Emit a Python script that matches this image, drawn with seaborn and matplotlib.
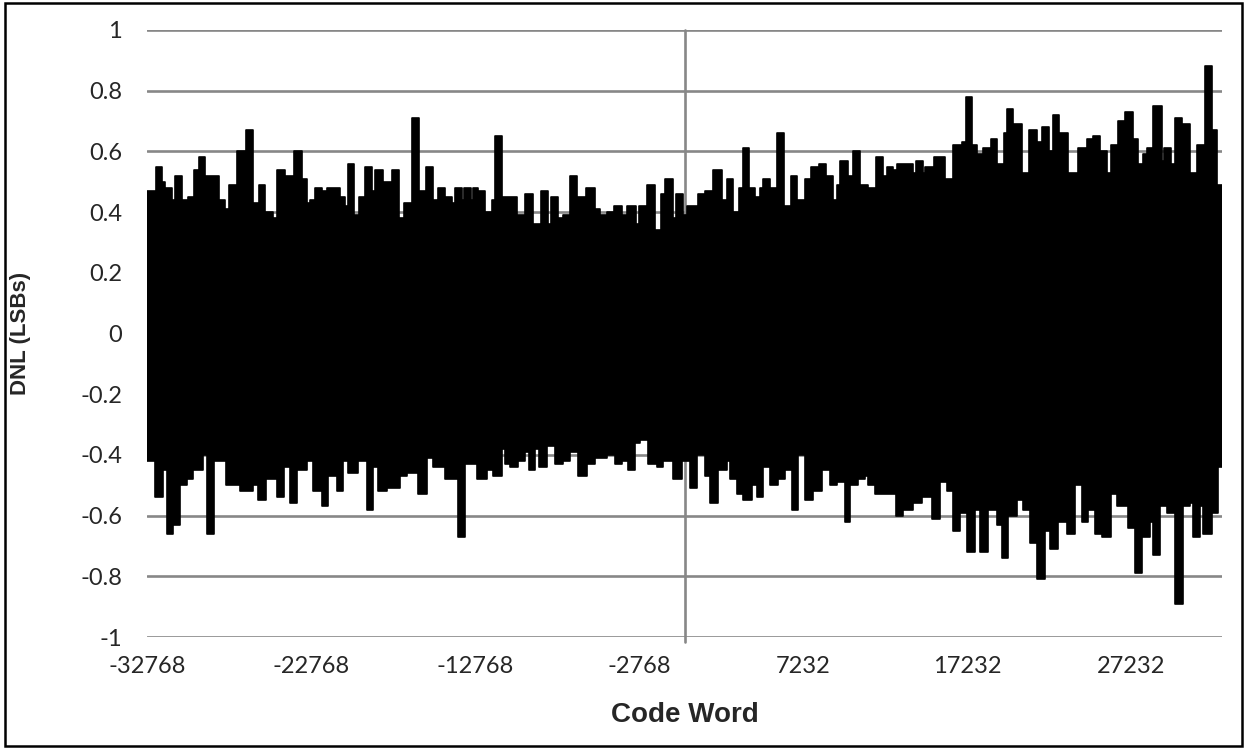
import matplotlib
matplotlib.use("Agg")
import matplotlib.pyplot as plt
import seaborn as sns
import pandas as pd
from matplotlib.patches import Rectangle

# DNL band: code word where each level starts, value in LSBs
upper_codes = [-32768, -32220, -31874, -31671, -31265, -31061, -30655, -30249, -29903, -29578,
               -29233, -28359, -28014, -27749, -27262, -26733, -26286, -25961, -25575, -25067,
               -24823, -24356, -23807, -23340, -23035, -22832, -22527, -22121, -21816, -21003,
               -20698, -20495, -20150, -19824, -19479, -19032, -18870, -18362, -17853, -17427,
               -17081, -16634, -16167, -15761, -15314, -15009, -14602, -14196, -13993, -13587,
               -13444, -13038, -12875, -12570, -12164, -11758, -11554, -11148,
               -10944, -10680, -10233, -9725, -9258, -8770, -8303, -8160, -7693, -7388,
               -6982, -6575, -6007, -5458, -5153, -4747, -4300, -3832, -3487, -2958,
               -2755, -2268, -1800, -1455, -1191, -723, -520, -73, 130, 537,
               841, 1248, 1756, 2264, 2569, 2934, 3341, 3585, 3950, 4296,
               4601, 4804, 5210, 5617, 6064, 6470, 6877, 7344, 7690, 8217,
               8624, 9071, 9315, 9477, 9985, 10290, 10697,
               10798, 11204, 11671, 12118, 12322, 12728, 12931, 13338, 13907, 14110,
               14516, 14658, 15207, 15878, 16386, 16894, 17158, 17524, 17849, 18174,
               18661, 19068, 19474, 19637, 20043, 20551, 21019, 21466, 21770, 22238,
               22441, 22847, 23396, 24006, 24514, 24920, 25326, 25733, 25977, 26444,
               26850, 27318, 27663, 27927, 28212, 28537, 29086, 29228, 29634, 29898,
               30305, 30813, 31219, 31727, 32134, 32438]
upper_dnl = [0.47, 0.55, 0.50, 0.48, 0.44, 0.52, 0.44, 0.45, 0.54, 0.58,
             0.52, 0.44, 0.41, 0.49, 0.60, 0.67, 0.43, 0.49, 0.40, 0.38,
             0.54, 0.52, 0.60, 0.51, 0.43, 0.44, 0.48, 0.47, 0.48, 0.45,
             0.42, 0.56, 0.39, 0.45, 0.55, 0.47, 0.54, 0.50, 0.54, 0.38,
             0.43, 0.71, 0.47, 0.55, 0.44, 0.48, 0.45, 0.43, 0.48, 0.44,
             0.48, 0.44, 0.48, 0.47, 0.40, 0.44, 0.65, 0.45,
             0.45, 0.45, 0.39, 0.46, 0.36, 0.47, 0.36, 0.45, 0.38, 0.39,
             0.52, 0.45, 0.48, 0.41, 0.39, 0.40, 0.42, 0.39, 0.42, 0.36,
             0.42, 0.49, 0.34, 0.46, 0.51, 0.38, 0.46, 0.39, 0.42, 0.42,
             0.46, 0.47, 0.54, 0.44, 0.51, 0.40, 0.48, 0.61, 0.48, 0.45,
             0.48, 0.51, 0.48, 0.66, 0.42, 0.52, 0.44, 0.51, 0.55, 0.56,
             0.52, 0.44, 0.49, 0.57, 0.52, 0.60, 0.49,
             0.49, 0.48, 0.58, 0.52, 0.55, 0.54, 0.56, 0.56, 0.53, 0.57,
             0.53, 0.55, 0.58, 0.51, 0.62, 0.63, 0.78, 0.62, 0.59, 0.61,
             0.64, 0.56, 0.66, 0.74, 0.69, 0.53, 0.67, 0.63, 0.68, 0.60,
             0.72, 0.66, 0.53, 0.61, 0.64, 0.65, 0.60, 0.53, 0.62, 0.70,
             0.73, 0.64, 0.56, 0.59, 0.61, 0.75, 0.57, 0.61, 0.56, 0.71,
             0.69, 0.53, 0.62, 0.88, 0.67, 0.49]

lower_codes = [-32768, -32281, -31773, -31569, -31163, -30757, -30350, -29944, -29334, -29131,
               -28684, -27953, -27099, -26286, -25981, -25514, -24864, -24417, -24051, -23645,
               -23035, -22629, -22121, -21714, -21206, -20840, -20495, -19886, -19377, -18971,
               -18666, -18158, -17345, -16939, -16228, -15720, -15314, -14602, -13790, -13383,
               -12672, -12062, -11656, -11148,
               -10944, -10639, -10131, -9725, -9461, -9115, -8851, -8404, -7896, -7388,
               -6982, -6474, -5966, -5458, -4747, -4239, -3832, -3426, -3020, -2715,
               -2207, -1699, -1292, -683, -175, 333, 740, 1248, 1553, 2061,
               2569, 2772, 3178, 3585, 4093, 4397, 4804, 5210, 5718, 6125,
               6531, 6937, 7344, 7851, 8359, 8867, 9275, 9782, 10087, 10595,
               11001, 11204, 11610, 12891, 13338, 13947, 14455, 15065, 15573, 15979,
               16386, 16792, 17198, 17706, 18011, 18519, 19027, 19332, 19738, 20246,
               20653, 21059, 21466, 21974, 22278, 22786, 23294, 23802, 24209, 24615,
               25022, 25428, 25977, 26342, 27054, 27460, 27866, 28374, 28578, 28984,
               29390, 29898, 30365, 30813, 31016, 31422, 31626, 32134, 32540]
lower_dnl = [-0.42, -0.54, -0.45, -0.66, -0.63, -0.50, -0.48, -0.45, -0.40, -0.66,
             -0.42, -0.50, -0.52, -0.50, -0.55, -0.48, -0.54, -0.44, -0.56, -0.45,
             -0.42, -0.52, -0.57, -0.47, -0.52, -0.42, -0.46, -0.42, -0.58, -0.44,
             -0.52, -0.51, -0.47, -0.46, -0.53, -0.41, -0.44, -0.48, -0.67, -0.43,
             -0.48, -0.45, -0.47, -0.38,
             -0.43, -0.44, -0.42, -0.39, -0.45, -0.38, -0.44, -0.37, -0.43, -0.42,
             -0.39, -0.47, -0.43, -0.41, -0.40, -0.43, -0.42, -0.45, -0.36, -0.35,
             -0.43, -0.44, -0.42, -0.48, -0.42, -0.51, -0.40, -0.47, -0.56, -0.45,
             -0.42, -0.48, -0.53, -0.55, -0.50, -0.54, -0.44, -0.50, -0.48, -0.45,
             -0.58, -0.40, -0.55, -0.52, -0.45, -0.50, -0.49, -0.62, -0.50, -0.48,
             -0.47, -0.50, -0.53, -0.60, -0.58, -0.56, -0.54, -0.61, -0.49, -0.52,
             -0.65, -0.59, -0.72, -0.58, -0.72, -0.58, -0.63, -0.74, -0.60, -0.55,
             -0.58, -0.69, -0.81, -0.65, -0.71, -0.62, -0.66, -0.50, -0.62, -0.58,
             -0.66, -0.67, -0.53, -0.57, -0.64, -0.79, -0.67, -0.62, -0.73, -0.57,
             -0.59, -0.89, -0.57, -0.56, -0.67, -0.57, -0.66, -0.59, -0.44]

x_ticks = [-32768, -22768, -12768, -2768, 7232, 17232, 27232]
y_ticks = [-1, -0.8, -0.6, -0.4, -0.2, 0, 0.2, 0.4, 0.6, 0.8, 1]
y_tick_labels = ["-1", "-0.8", "-0.6", "-0.4", "-0.2", "0", "0.2", "0.4", "0.6", "0.8", "1"]
first_code, last_code = -32768, 32767

sns.set_style("white")
tick_font = ["Lato", "DejaVu Sans"]
label_font = ["Liberation Sans", "DejaVu Sans"]
grid_color = "#878787"

fig = plt.figure(figsize=(12.46, 7.48), dpi=100)
ax = fig.add_axes([147 / 1246, 1 - 637 / 748, 1075 / 1246, 607 / 748])

up = pd.DataFrame({"code": upper_codes + [last_code], "dnl": upper_dnl + [upper_dnl[-1]]})
lo = pd.DataFrame({"code": lower_codes + [last_code], "dnl": lower_dnl + [lower_dnl[-1]]})

for band in (up, lo):
    ax.fill_between(band["code"], 0, band["dnl"], step="post", color="black", lw=0, zorder=2)
    sns.lineplot(data=band, x="code", y="dnl", drawstyle="steps-post", color="black",
                 lw=1.2, estimator=None, ax=ax, zorder=2)

ax.set_xlim(first_code, last_code)
ax.set_ylim(-1, 1)
ax.set_yticks(y_ticks)
ax.set_yticklabels(y_tick_labels, fontfamily=tick_font, fontsize=17)
ax.set_xticks(x_ticks)
ax.set_xticklabels([str(t) for t in x_ticks], fontfamily=tick_font, fontsize=17)
ax.tick_params(axis="both", length=0)
ax.tick_params(axis="y", pad=18)
ax.tick_params(axis="x", pad=14)

ax.yaxis.grid(True, color=grid_color, lw=1.9)
ax.xaxis.grid(False)
ax.axvline(0, ymin=-0.008, ymax=1, color=grid_color, lw=1.9, zorder=1, clip_on=False)
ax.set_axisbelow(True)
for side in ax.spines.values():
    side.set_visible(False)

ax.set_xlabel("Code Word", fontfamily=label_font, fontweight="bold", fontsize=20)
ax.set_ylabel("DNL (LSBs)", fontfamily=label_font, fontweight="bold", fontsize=16)
ax.xaxis.set_label_coords(0.5, -(715 - 637) / 607)
ax.xaxis.label.set_va("center")
ax.yaxis.set_label_coords(-(147 - 21) / 1075, 0.5)
ax.yaxis.label.set_va("center")

fig.patches.append(Rectangle((5 / 1246, 2 / 748), 1237 / 1246, 743 / 748,
                             transform=fig.transFigure, fill=False,
                             edgecolor="black", lw=1.8))

fig.savefig("out.png", dpi=100, facecolor="white")
